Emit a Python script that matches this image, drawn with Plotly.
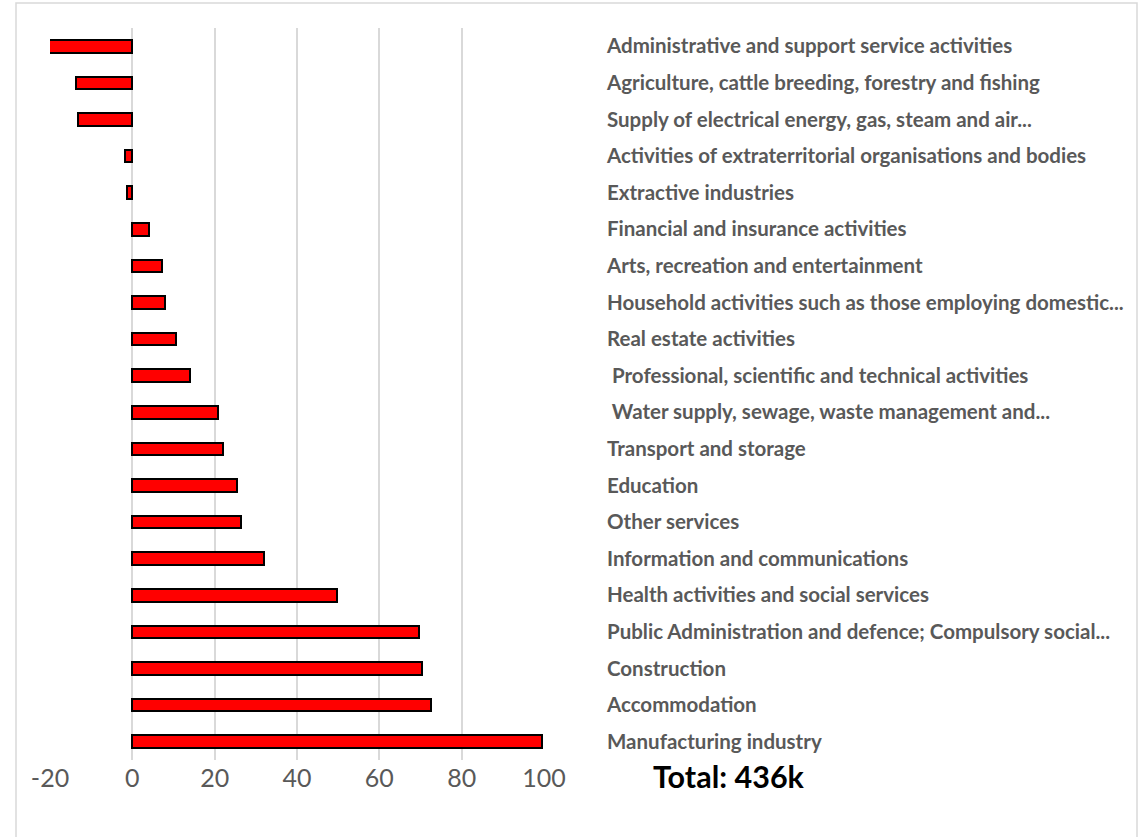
import plotly.graph_objects as go

categories = [
    "Administrative and support service activities",
    "Agriculture, cattle breeding, forestry and fishing",
    "Supply of electrical energy, gas, steam and air...",
    "Activities of extraterritorial organisations and bodies",
    "Extractive industries",
    "Financial and insurance activities",
    "Arts, recreation and entertainment",
    "Household activities such as those employing domestic...",
    "Real estate activities",
    "\u00a0Professional, scientific and technical activities",
    "\u00a0Water supply, sewage, waste management and...",
    "Transport and storage",
    "Education",
    "Other services",
    "Information and communications",
    "Health activities and social services",
    "Public Administration and defence; Compulsory social...",
    "Construction",
    "Accommodation",
    "Manufacturing industry",
]
values = [-20.2, -13.6, -13.2, -1.7, -1.3, 4.1, 7.1, 7.9, 10.5, 13.9,
          20.7, 22.1, 25.5, 26.3, 31.9, 49.8, 69.6, 70.4, 72.5, 99.5]
x_ticks = [-20, 0, 20, 40, 60, 80, 100]
total_label = "Total: 436k"

FONT = "Lato, 'Open Sans', sans-serif"

fig = go.Figure(go.Bar(
    x=values, y=categories, orientation="h",
    width=0.34,
    marker=dict(color="#FF0000", line=dict(color="#000000", width=2)),
))

W, H = 1140, 837
left, right, top, bottom = 50, 544, 28, 760

fig.update_layout(
    width=W, height=H,
    margin=dict(l=left, r=W - right, t=top, b=H - bottom, autoexpand=False),
    paper_bgcolor="white", plot_bgcolor="white",
    showlegend=False,
    bargap=0,
    xaxis=dict(
        range=[-20, 100], tickvals=x_ticks, ticktext=[str(v) for v in x_ticks],
        showgrid=True, gridcolor="#D9D9D9", gridwidth=1.5,
        zeroline=True, zerolinecolor="#D9D9D9", zerolinewidth=1.5,
        showline=False, ticks="",
        tickfont=dict(family=FONT, size=25, color="#595959"),
        ticklabelstandoff=1,
        fixedrange=True,
    ),
    yaxis=dict(
        side="right", autorange="reversed", type="category",
        showgrid=False, zeroline=False, showline=False, ticks="",
        tickfont=dict(family=FONT, size=20.5, color="#595959", weight="bold"),
        ticklabelstandoff=62,
        fixedrange=True,
    ),
    shapes=[dict(type="rect", xref="paper", yref="paper",
                 x0=(16 - left) / (right - left), x1=(1137 - left) / (right - left),
                 y0=(bottom - 845) / (bottom - top), y1=(bottom - 3) / (bottom - top),
                 line=dict(color="#D9D9D9", width=1.5), layer="below")],
    annotations=[dict(text=total_label, xref="paper", yref="paper",
                      x=(729 - left) / (right - left), y=(bottom - 776) / (bottom - top),
                      xanchor="center", yanchor="middle", showarrow=False,
                      font=dict(family=FONT, size=30.5, color="#000000", weight="bold"))],
)

fig.write_html("out.html")
